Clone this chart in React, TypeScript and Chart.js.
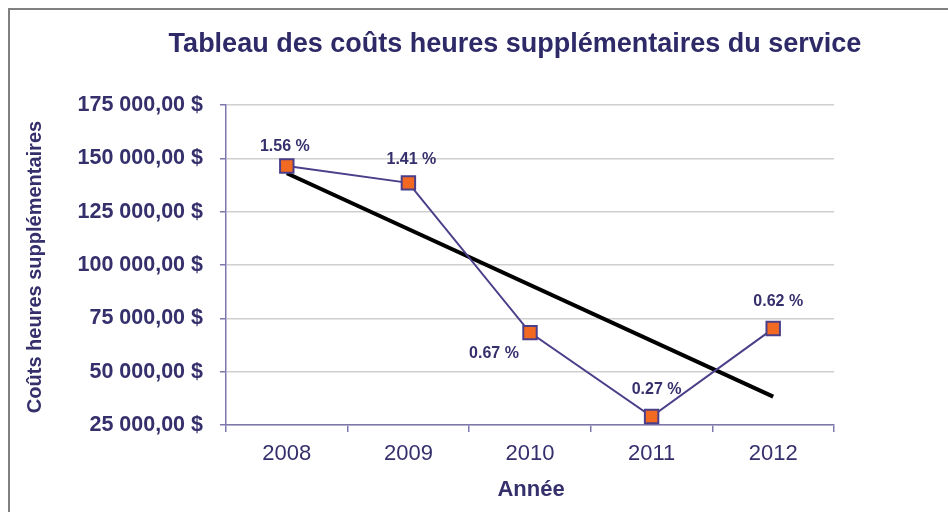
import React, { useEffect, useRef } from "react";
import { Chart, registerables } from "chart.js";

Chart.register(...registerables);

const categories = ["2008", "2009", "2010", "2011", "2012"];
const costs = [146400, 138500, 68300, 29000, 70200];
const percentLabels = ["1.56 %", "1.41 %", "0.67 %", "0.27 %", "0.62 %"];
const trend = [143000, null, null, null, 38300];
const yTicks = [25000, 50000, 75000, 100000, 125000, 150000, 175000];

// label placement relative to each point (style, not data)
const labelPlacement = [
  { dx: -2, dy: -19 },
  { dx: 3, dy: -23 },
  { dx: -36, dy: 21 },
  { dx: 5, dy: -27 },
  { dx: 5, dy: -27 },
];

const TEXT = "#35306C";
const AXIS = "#7C78AC";
const FONT = "'Liberation Sans', Arial, sans-serif";

function fmt(v: number): string {
  const s = Math.round(v).toString().replace(/\B(?=(\d{3})+(?!\d))/g, " ");
  return s + ",00 $";
}

const textPlugin = {
  id: "texts",
  beforeDraw(chart: any) {
    const ctx = chart.ctx;
    ctx.save();
    ctx.fillStyle = "#ffffff";
    ctx.fillRect(0, 0, chart.width, chart.height);
    ctx.fillStyle = "#808080";
    ctx.fillRect(8, 8, 2, chart.height);
    ctx.fillRect(8, 8, chart.width, 2);
    ctx.restore();
  },
  afterDraw(chart: any) {
    const ctx = chart.ctx;
    ctx.save();
    ctx.fillStyle = "#2E2A68";
    ctx.textAlign = "center";
    ctx.textBaseline = "middle";
    ctx.font = `bold 27px ${FONT}`;
    ctx.fillText("Tableau des coûts heures supplémentaires du service", 515, 45);

    ctx.fillStyle = TEXT;
    ctx.font = `bold 22px ${FONT}`;
    ctx.fillText("Année", 531, 490);

    ctx.save();
    ctx.translate(35, 267);
    ctx.rotate(-Math.PI / 2);
    ctx.font = `bold 20px ${FONT}`;
    ctx.fillText("Coûts heures supplémentaires", 0, 0);
    ctx.restore();

    const meta = chart.getDatasetMeta(0);
    ctx.font = `bold 16px ${FONT}`;
    meta.data.forEach((pt: any, i: number) => {
      const p = labelPlacement[i];
      ctx.fillText(percentLabels[i], pt.x + p.dx, pt.y + p.dy);
    });
    ctx.restore();
  },
};

export default function App() {
  const ref = useRef<HTMLCanvasElement>(null);
  useEffect(() => {
    if (!ref.current) return;
    const chart = new Chart(ref.current, {
      type: "line",
      data: {
        labels: categories,
        datasets: [
          {
            label: "Coûts",
            data: costs,
            borderColor: "#4B3F8A",
            borderWidth: 2,
            backgroundColor: "#F26A22",
            pointStyle: "rect",
            pointRadius: 9.5,
            pointBorderWidth: 2,
            pointBorderColor: "#4B3F8A",
            pointBackgroundColor: "#F26A22",
            tension: 0,
          },
          {
            label: "Tendance",
            data: trend,
            borderColor: "#000000",
            borderWidth: 4,
            pointRadius: 0,
            spanGaps: true,
            tension: 0,
          },
        ],
      },
      options: {
        responsive: false,
        animation: false,
        layout: { padding: { top: 105, left: 0, right: 114, bottom: 0 } },
        plugins: { legend: { display: false }, title: { display: false }, tooltip: { enabled: false } },
        scales: {
          x: {
            type: "category",
            offset: true,
            grid: {
              offset: true,
              drawOnChartArea: false,
              tickLength: 7,
              tickColor: AXIS,
              lineWidth: 1.5,
            },
            border: { color: AXIS, width: 1.5 },
            ticks: { color: TEXT, font: { family: FONT, size: 22 }, padding: 9 },
            afterFit: (s: any) => {
              s.height = 87;
            },
          },
          y: {
            min: 25000,
            max: 175000,
            afterBuildTicks: (s: any) => {
              s.ticks = yTicks.map((v) => ({ value: v }));
            },
            grid: {
              color: "#CFCFCF",
              lineWidth: 1.5,
              tickLength: 6,
              tickColor: AXIS,
            },
            border: { color: AXIS, width: 1.5 },
            ticks: {
              color: TEXT,
              font: { family: FONT, size: 21.5, weight: "bold" },
              padding: 17,
              callback: (v: any) => fmt(Number(v)),
            },
            afterFit: (s: any) => {
              s.width = 226;
            },
          },
        },
      },
      plugins: [textPlugin],
    });
    return () => chart.destroy();
  }, []);
  return (
    <div style={{ position: "fixed", left: 0, top: 0, width: 948, height: 512 }}>
      <canvas ref={ref} width={948} height={512} />
    </div>
  );
}
